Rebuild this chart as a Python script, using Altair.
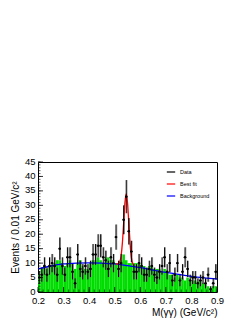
import altair as alt
import pandas as pd
import numpy as np

# ---- data ----
bin_lo = [round(0.20 + 0.01 * i, 2) for i in range(70)]
data_counts = [5, 6, 9, 6, 9, 10, 9, 6, 15, 9,
               6, 12, 12, 7, 3, 13, 8, 7, 9, 7,
               8, 13, 13, 16, 16, 12, 11, 8, 12, 10,
               19, 8, 10, 25, 33, 21, 14, 7, 7, 10,
               9, 6, 6, 8, 9, 6, 5, 7, 9, 12,
               7, 10, 4, 6, 10, 4, 7, 12, 8, 4,
               5, 5, 3, 4, 5, 3, 6, 1, 3, 7]
green_counts = [6, 8, 9, 8, 9, 9, 10, 11, 11, 10,
                9, 10, 11, 10, 8, 10, 11, 9, 8, 8,
                10, 11, 11, 12, 11, 10, 12, 12, 11, 11,
                10, 10, 11, 13, 11, 10, 10, 10, 10, 10,
                9, 9, 8, 9, 9, 8, 8, 8, 7, 8,
                7, 6, 6, 5, 6, 5, 5, 4, 5, 4,
                4, 4, 3, 4, 3, 3, 2, 1, 2, 2]

bkg_x = [0.20, 0.25, 0.30, 0.35, 0.40, 0.45, 0.50, 0.55, 0.60, 0.65, 0.70, 0.75, 0.80, 0.85, 0.90]
bkg_y = [8.0, 9.0, 9.7, 10.0, 10.1, 10.0, 9.7, 9.1, 8.4, 7.6, 6.8, 6.1, 5.4, 4.9, 4.5]

fit_x = [0.505, 0.515, 0.52, 0.525, 0.53, 0.535, 0.54, 0.545, 0.55, 0.555, 0.56, 0.565, 0.57, 0.575]
fit_y = [9.6, 9.8, 10.5, 12.5, 17.0, 24.0, 31.0, 34.0, 31.0, 24.0, 17.0, 12.0, 10.0, 9.2]

x_major = [0.2, 0.3, 0.4, 0.5, 0.6, 0.7, 0.8, 0.9]
x_minor = [round(0.2 + 0.02 * i, 2) for i in range(36)]
y_major = [0, 5, 10, 15, 20, 25, 30, 35, 40, 45]
y_minor = list(range(0, 46))

legend_labels = ["Data", "Best fit", "Background"]
legend_colors = ["black", "#ff0000", "#0000ff"]

# ---- tables ----
hist = pd.DataFrame({"lo": bin_lo, "n": data_counts, "g": green_counts})
hist["hi"] = hist["lo"] + 0.01
hist["c"] = hist["lo"] + 0.005
hist["err"] = np.sqrt(hist["n"])
hist["elo"] = (hist["n"] - hist["err"]).clip(lower=0)
hist["ehi"] = hist["n"] + hist["err"]
hist["glo"] = hist["c"] + 0.001
hist["ghi"] = hist["c"] + 0.005
hist["series"] = "Data"

bkg = pd.DataFrame({"x": bkg_x, "y": bkg_y, "series": "Background"})
fit = pd.DataFrame({"x": fit_x, "y": fit_y, "series": "Best fit"})

xs = alt.Scale(domain=[0.2, 0.9], nice=False, zero=False)
ys = alt.Scale(domain=[0, 45], nice=False)
cs = alt.Scale(domain=legend_labels, range=legend_colors)

FONT = "Liberation Sans"

xaxis = alt.Axis(values=x_major, format=".1f", title="M(γγ) (GeV/c²)",
                 titleAnchor="end", titleFontWeight="normal", titleFontSize=10,
                 titlePadding=3, labelFontSize=9.5, labelPadding=3, ticks=False,
                 domain=False, grid=False, labelFlush=False, labelOverlap=False)
yaxis = alt.Axis(values=y_major, title="Events / 0.01 GeV/c²", titleFontWeight="normal",
                 titleFontSize=10, titlePadding=4, labelFontSize=9.5, labelPadding=3,
                 labelOffset=-1,
                 ticks=False, domain=False, grid=False, labelOverlap=False,
                 labelFlush=False)


def X(f):
    return alt.X(f, scale=xs, axis=xaxis)


def Y(f):
    return alt.Y(f, scale=ys, axis=yaxis)


base = alt.Chart(hist)

green = base.mark_rect(color="#00dd00").encode(
    x=X("lo:Q"), x2="hi:Q", y=Y("g:Q"), y2=alt.datum(0),
)

gray = base.mark_rect(color="#8c8c8c", opacity=0.85).encode(
    x=X("glo:Q"), x2="ghi:Q", y=Y("elo:Q"), y2="ehi:Q",
)

errv = base.mark_rule(strokeWidth=1.0).encode(
    x=X("c:Q"), y=Y("elo:Q"), y2="ehi:Q",
    color=alt.Color("series:N", scale=cs, legend=None),
)
errh = base.mark_rule(strokeWidth=1.0).encode(
    x=X("lo:Q"), x2="hi:Q", y=Y("n:Q"),
    color=alt.Color("series:N", scale=cs, legend=None),
)
pts = base.mark_point(filled=True, size=6, opacity=1).encode(
    x=X("c:Q"), y=Y("n:Q"),
    color=alt.Color("series:N", scale=cs, legend=None),
)

bkg_line = alt.Chart(bkg).mark_line(strokeWidth=1.3, interpolate="monotone").encode(
    x=X("x:Q"), y=Y("y:Q"),
    color=alt.Color("series:N", scale=cs,
                    legend=alt.Legend(title=None, orient="none", legendX=128, legendY=5,
                                      symbolType="stroke", symbolSize=70, symbolStrokeWidth=1.2,
                                      labelFontSize=5.5, labelFont=FONT, rowPadding=3,
                                      values=legend_labels)),
)
fit_line = alt.Chart(fit).mark_line(strokeWidth=1.3, interpolate="monotone").encode(
    x=X("x:Q"), y=Y("y:Q"),
    color=alt.Color("series:N", scale=cs),
)

# inward ticks
yt_major = alt.Chart(pd.DataFrame({"t": y_major})).mark_rule(color="black", strokeWidth=0.8).encode(
    y=Y("t:Q"), x=alt.value(0), x2=alt.value(5))
yt_minor = alt.Chart(pd.DataFrame({"t": y_minor})).mark_rule(color="black", strokeWidth=0.6).encode(
    y=Y("t:Q"), x=alt.value(0), x2=alt.value(2.5))
xt_major = alt.Chart(pd.DataFrame({"t": x_major})).mark_rule(color="black", strokeWidth=0.8).encode(
    x=X("t:Q"), y=alt.value(130), y2=alt.value(125))
xt_minor = alt.Chart(pd.DataFrame({"t": x_minor})).mark_rule(color="black", strokeWidth=0.6).encode(
    x=X("t:Q"), y=alt.value(130), y2=alt.value(127.5))

chart = alt.layer(
    green, gray, bkg_line, fit_line, errv, errh, pts,
    yt_minor, yt_major, xt_minor, xt_major,
).resolve_scale(color="shared").properties(
    width=179, height=130,
    autosize=alt.AutoSizeParams(type="none"),
    padding={"left": 30, "top": 154, "right": 21, "bottom": 27},
    background="white",
).configure_view(
    stroke="black", strokeWidth=1,
).configure_axis(
    labelFont=FONT, titleFont=FONT, labelColor="black", titleColor="black",
).configure_legend(
    labelFont=FONT,
)

chart.save("out.html", embed_options={"renderer": "svg", "actions": False})
